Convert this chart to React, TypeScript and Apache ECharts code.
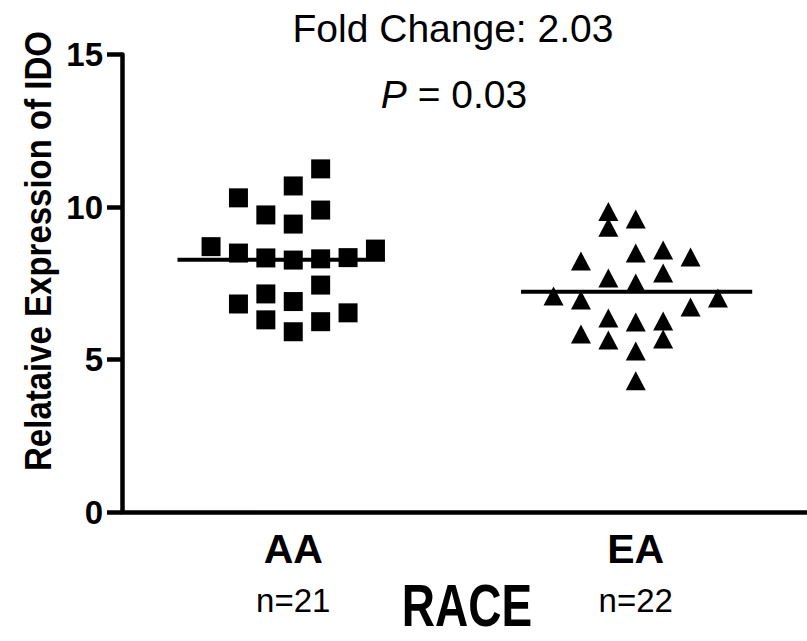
import React, { useEffect, useRef } from "react";
import * as echarts from "echarts";

const categories = ["AA", "EA"];
const groupCounts = ["n=21", "n=22"];
const yTicks = [0, 5, 10, 15];

// AA group (squares): horizontal jitter (category units) and values
const aaJitter = [-0.16, 0.0, 0.08, -0.08, 0.0, 0.08, -0.24, -0.16, -0.08, 0.0, 0.08, 0.16, 0.24, 0.08, -0.08, -0.16, 0.0, 0.16, -0.08, 0.08, 0.0];
const aaValues = [10.3, 10.69, 11.25, 9.74, 9.44, 9.9, 8.7, 8.49, 8.33, 8.26, 8.3, 8.34, 8.62, 7.44, 7.15, 6.82, 6.9, 6.53, 6.3, 6.24, 5.91];
const aaMean = 8.27;
const aaMeanSpan = [-0.338, 0.268];

// EA group (triangles)
const eaJitter = [-0.08, -0.08, 0.0, -0.16, 0.0, 0.08, 0.16, -0.08, 0.08, 0.0, -0.24, -0.16, 0.24, 0.16, -0.08, 0.0, 0.08, -0.16, -0.08, 0.08, 0.0, 0.0];
const eaValues = [9.85, 9.34, 9.61, 8.23, 8.49, 8.59, 8.36, 7.67, 7.84, 7.51, 7.08, 6.95, 7.02, 6.72, 6.36, 6.23, 6.26, 5.84, 5.64, 5.67, 5.28, 4.3];
const eaMean = 7.22;
const eaMeanSpan = [-0.335, 0.34];

const titleLine1 = "Fold Change: 2.03";
const pValue = "0.03";
const yTitle = "Relataive Expression of IDO";
const xTitle = "RACE";

const FONT = "'Liberation Sans', Arial, Helvetica, sans-serif";

export default function App() {
  const ref = useRef<HTMLDivElement>(null);

  useEffect(() => {
    if (!ref.current) return;
    const chart = echarts.init(ref.current, null, { renderer: "svg" });

    const aaData = aaValues.map((v, i) => [0 + aaJitter[i], v]);
    const eaData = eaValues.map((v, i) => [1 + eaJitter[i], v]);

    const option: any = {
      animation: false,
      backgroundColor: "#ffffff",
      textStyle: { fontFamily: FONT },
      grid: { left: 122, right: 0, top: 54.5, bottom: 129, containLabel: false },
      xAxis: [
        {
          type: "category",
          data: categories,
          boundaryGap: true,
          axisLine: { onZero: false, lineStyle: { color: "#000", width: 4.5 } },
          axisTick: { alignWithLabel: true, length: 15, lineStyle: { color: "#000", width: 4.5 } },
          axisLabel: {
            margin: 12,
            formatter: (val: string, idx: number) => `{a|${val}}\n{b|${groupCounts[idx]}}`,
            rich: {
              a: { fontSize: 41, fontWeight: "bold", color: "#000", lineHeight: 50, fontFamily: FONT },
              b: { fontSize: 33, fontWeight: "normal", color: "#000", lineHeight: 52, fontFamily: FONT },
            },
          },
          splitLine: { show: false },
        },
        {
          type: "value",
          min: -0.5,
          max: 1.5,
          show: false,
          axisLine: { onZero: false },
        },
      ],
      yAxis: {
        type: "value",
        min: yTicks[0],
        max: yTicks[yTicks.length - 1],
        interval: 5,
        axisLine: { show: true, onZero: false, lineStyle: { color: "#000", width: 4.5 } },
        axisTick: { show: true, length: 15, lineStyle: { color: "#000", width: 4.5 } },
        axisLabel: { margin: 19, fontSize: 33, fontWeight: "bold", color: "#000", fontFamily: FONT },
        splitLine: { show: false },
      },
      series: [
        {
          type: "line",
          xAxisIndex: 1,
          data: [[aaMeanSpan[0], aaMean], [aaMeanSpan[1], aaMean]],
          symbol: "none",
          lineStyle: { color: "#000", width: 4 },
          z: 2,
        },
        {
          type: "line",
          xAxisIndex: 1,
          data: [[1 + eaMeanSpan[0], eaMean], [1 + eaMeanSpan[1], eaMean]],
          symbol: "none",
          lineStyle: { color: "#000", width: 4 },
          z: 2,
        },
        {
          type: "scatter",
          xAxisIndex: 1,
          data: aaData,
          symbol: "rect",
          symbolSize: 19,
          itemStyle: { color: "#000", opacity: 1 },
          z: 3,
        },
        {
          type: "scatter",
          xAxisIndex: 1,
          data: eaData,
          symbol: "triangle",
          symbolSize: [20, 19],
          itemStyle: { color: "#000", opacity: 1 },
          z: 3,
        },
      ],
      graphic: [
        {
          type: "text",
          x: 453,
          y: 28,
          style: {
            text: titleLine1,
            font: `normal 39px ${FONT}`,
            fill: "#000",
            textAlign: "center",
            textVerticalAlign: "middle",
          },
        },
        {
          type: "text",
          x: 454,
          y: 94,
          style: {
            text: `{i|P} = ${pValue}`,
            fontSize: 39,
            fontFamily: FONT,
            fill: "#000",
            textAlign: "center",
            textVerticalAlign: "middle",
            rich: { i: { fontStyle: "italic", fontSize: 39, fontFamily: FONT, fill: "#000" } },
          },
        },
        {
          type: "text",
          x: 38,
          y: 251,
          rotation: Math.PI / 2,
          scaleY: 1.12,
          style: {
            text: yTitle,
            font: `bold 33px ${FONT}`,
            fill: "#000",
            textAlign: "center",
            textVerticalAlign: "middle",
          },
        },
        {
          type: "text",
          x: 467,
          y: 605,
          scaleY: 1.3,
          style: {
            text: xTitle,
            font: `bold 46px ${FONT}`,
            fill: "#000",
            textAlign: "center",
            textVerticalAlign: "middle",
          },
        },
      ],
    };

    chart.setOption(option);
    return () => chart.dispose();
  }, []);

  return (
    <div
      ref={ref}
      style={{ position: "absolute", left: 0, top: 0, width: 807, height: 641 }}
    />
  );
}
